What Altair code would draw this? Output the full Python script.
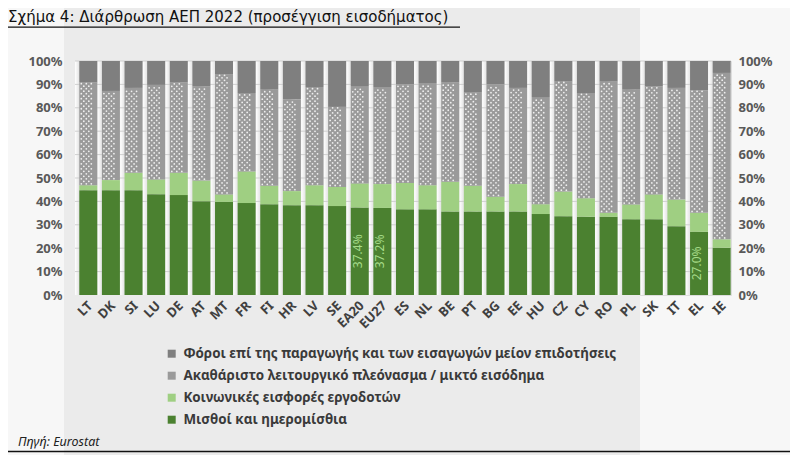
import altair as alt
import pandas as pd

countries = ["LT", "DK", "SI", "LU", "DE", "AT", "MT", "FR", "FI", "HR", "LV", "SE",
             "EA20", "EU27", "ES", "NL", "BE", "PT", "BG", "EE", "HU", "CZ", "CY",
             "RO", "PL", "SK", "IT", "EL", "IE"]
wages = [44.8, 44.8, 44.8, 43.1, 42.7, 40.1, 39.8, 39.3, 38.8, 38.4, 38.4, 38.0,
         37.4, 37.2, 36.6, 36.6, 35.7, 35.7, 35.7, 35.7, 34.6, 33.7, 33.4,
         33.4, 32.4, 32.4, 29.4, 27.0, 20.2]
social = [2.1, 4.3, 7.4, 6.3, 9.5, 8.8, 3.2, 13.5, 7.9, 6.0, 8.5, 8.2,
          10.3, 10.2, 11.3, 10.3, 12.7, 11.0, 6.3, 11.7, 4.2, 10.5, 7.9,
          1.7, 6.3, 10.6, 11.4, 8.1, 3.6]
surplus = [44.0, 38.1, 36.3, 40.4, 38.7, 40.3, 51.3, 33.5, 41.1, 39.2, 42.0, 34.2,
           41.6, 41.5, 42.1, 43.7, 42.5, 39.9, 48.0, 41.1, 45.8, 47.1, 45.0,
           56.2, 49.1, 46.2, 47.7, 52.4, 71.1]
taxes = [9.1, 12.8, 11.5, 10.2, 9.1, 10.8, 5.7, 13.7, 12.2, 16.4, 11.1, 19.6,
         10.7, 11.1, 10.0, 9.4, 9.1, 13.4, 10.0, 11.5, 15.4, 8.7, 13.7,
         8.7, 12.2, 10.8, 11.5, 12.5, 5.1]

series_names = [
    "Φόροι επί της παραγωγής και των εισαγωγών μείον επιδοτήσεις",
    "Ακαθάριστο λειτουργικό πλεόνασμα / μικτό εισόδημα",
    "Κοινωνικές εισφορές εργοδοτών",
    "Μισθοί και ημερομίσθια",
]
series_colors = ["#7f7f7f", "#9a9a9a", "#9fcf82", "#4b8130"]

label_countries = ["EA20", "EU27", "EL"]
label_values = [37.4, 37.2, 27.0]

y_ticks = [0, 10, 20, 30, 40, 50, 60, 70, 80, 90, 100]

title_text = "Σχήμα 4: Διάρθρωση ΑΕΠ 2022 (προσέγγιση εισοδήματος)"
source_text = "Πηγή: Eurostat"

FONT = "Noto Sans"

# long table for the stacked bars
rows = []
for i, c in enumerate(countries):
    for order, (name, vals) in enumerate(zip(series_names[::-1], [wages, social, surplus, taxes])):
        rows.append({"country": c, "series": name, "value": vals[i], "ord": order})
df = pd.DataFrame(rows)

# dotted texture for the surplus segment (decoration inside each segment's bounds)
dots = []
for i, c in enumerate(countries):
    lo = wages[i] + social[i]
    hi = lo + surplus[i]
    y = lo + 0.6
    j = 0
    while y < hi - 0.4:
        offs = [-5, 0, 5] if j % 2 == 0 else [-2.5, 2.5]
        for dx in offs:
            dots.append({"country": c, "y": y, "dx": dx})
        y += 1.07
        j += 1
df_dots = pd.DataFrame(dots)

df_c = pd.DataFrame({"country": countries})
df_lab = pd.DataFrame({"country": label_countries, "v": label_values,
                       "half": [v / 2 for v in label_values],
                       "txt": [f"{v:.1f}%" for v in label_values]})
df_ticks = pd.DataFrame({"v": y_ticks[1:]})
df_one = pd.DataFrame({"a": [0]})

yscale = alt.Scale(domain=[0, 100], nice=False)
xaxis = alt.Axis(title=None, labelAngle=-45, labelFontWeight="bold", labelFontSize=13,
                 labelColor="#404040", ticks=False, domain=False, labelPadding=4,
                 labelFont=FONT, zindex=2)
xenc = alt.X("country:N", sort=countries, scale=alt.Scale(paddingInner=0, paddingOuter=0), axis=xaxis)

panel = alt.Chart(df_one).mark_rect(color="#ebebeb").encode(
    x=alt.value(-11), x2=alt.value(565), y=alt.value(-53), y2=alt.value(394))

strips = alt.Chart(df_c).mark_bar(
    color=alt.LinearGradient(gradient="linear", x1=0, x2=1, y1=0, y2=0,
                             stops=[alt.GradientStop(offset=0, color="#ffffff"),
                                    alt.GradientStop(offset=0.5, color="#c4c4c4"),
                                    alt.GradientStop(offset=1, color="#ffffff")])
).encode(x=xenc, y=alt.YDatum(100, scale=yscale, axis=None), y2=alt.Y2Datum(0))

grid = alt.Chart(df_ticks).mark_rule(color="#cfcfcf", strokeWidth=1).encode(
    y=alt.Y("v:Q", scale=yscale, axis=None))

bars = alt.Chart(df).mark_bar(width=alt.RelativeBandSize(0.62)).encode(
    x=xenc,
    y=alt.Y("value:Q", stack="zero", scale=yscale,
            axis=alt.Axis(title=None, orient="left", values=y_ticks, labelExpr="datum.value + '%'",
                          ticks=False, domain=False, grid=False, labelFontSize=13,
                          labelFontWeight="bold", labelColor="#595959", labelPadding=13,
                          labelFont=FONT, zindex=2)),
    color=alt.Color("series:N", scale=alt.Scale(domain=series_names, range=series_colors),
                    legend=alt.Legend(orient="none", legendX=90, legendY=286, title=None,
                                      direction="vertical", symbolType="square", symbolSize=64,
                                      symbolStrokeWidth=0, labelFontSize=13.4, labelFontWeight="bold",
                                      labelColor="#3a3a3a", labelLimit=700, rowPadding=7,
                                      labelOffset=5, padding=0, labelFont=FONT)),
    order=alt.Order("ord:Q"),
)

dot_layer = alt.Chart(df_dots).mark_point(filled=True, shape="circle", size=3.2,
                                          color="#f4f4f4", opacity=0.95, strokeWidth=0).encode(
    x=xenc,
    xOffset=alt.XOffset("dx:Q", scale=alt.Scale(domain=[-11.31, 11.31], nice=False)),
    y=alt.Y("y:Q", scale=yscale, axis=None))

labels = alt.Chart(df_lab).mark_text(angle=270, color="#a6dc8a", fontSize=12, font=FONT,
                                     align="center", baseline="middle").encode(
    x=xenc, y=alt.Y("half:Q", scale=yscale, axis=None), text="txt:N")

right_axis = alt.Chart(pd.DataFrame({"v": [0, 100]})).mark_point(opacity=0).encode(
    y=alt.Y("v:Q", scale=yscale,
            axis=alt.Axis(title=None, orient="right", values=y_ticks, labelExpr="datum.value + '%'",
                          ticks=False, domain=False, grid=False, labelFontSize=13,
                          labelFontWeight="bold", labelColor="#595959", labelPadding=7,
                          labelFont=FONT, zindex=2)))

title = alt.Chart(df_one).mark_text(align="left", baseline="alphabetic", fontSize=15,
                                     font="DejaVu Sans", color="#111111").encode(
    x=alt.value(-67), y=alt.value(-38.6), text=alt.value(title_text))
title_line = alt.Chart(df_one).mark_rule(color="#111111", strokeWidth=1.3).encode(
    x=alt.value(-67), x2=alt.value(385), y=alt.value(-33.8))
source = alt.Chart(df_one).mark_text(align="left", baseline="alphabetic", fontSize=12.5,
                                      font=FONT, fontStyle="italic", color="#222222").encode(
    x=alt.value(-57), y=alt.value(385), text=alt.value(source_text))
source_line = alt.Chart(df_one).mark_rule(color="#111111", strokeWidth=1.3).encode(
    x=alt.value(-67), x2=alt.value(715), y=alt.value(390.5))

chart = alt.layer(panel, strips, grid, bars, dot_layer, labels, right_axis,
                  title, title_line, source, source_line
).resolve_axis(y="independent").properties(
    width=656, height=234,
    autosize=alt.AutoSizeParams(type="none"),
    padding={"left": 67, "top": 53, "right": 59, "bottom": 160},
    background="#f7f7f7",
).configure_view(stroke="#bdbdbd", fill="#ffffff").configure(font=FONT)

chart.save("out.html", embed_options={"renderer": "svg", "actions": False})
